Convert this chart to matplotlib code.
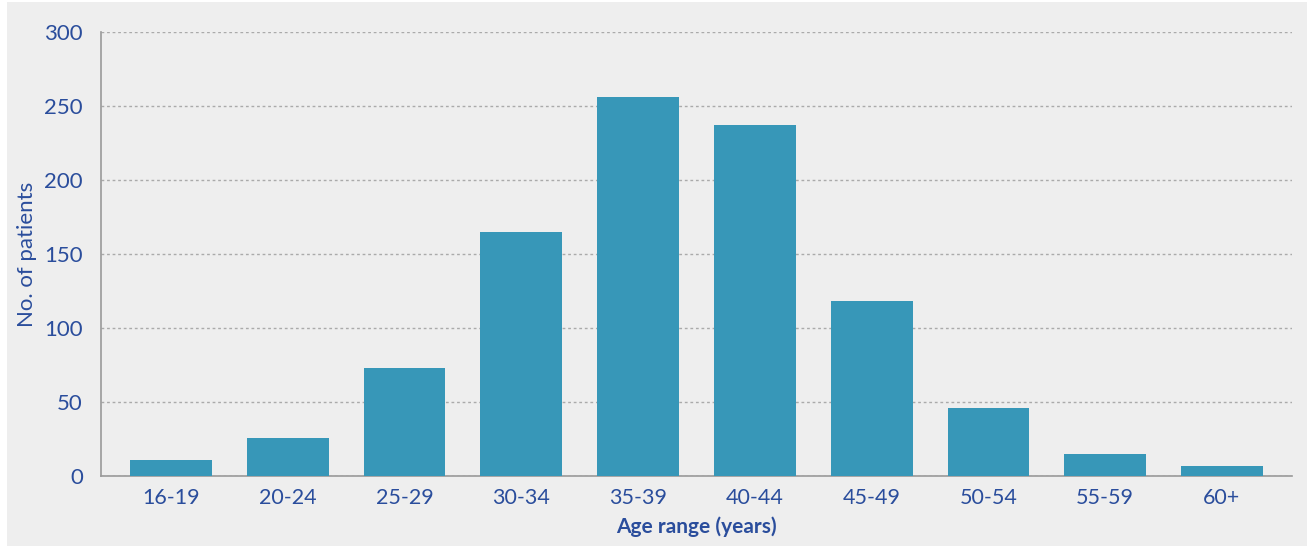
import matplotlib.pyplot as plt
from matplotlib.patches import Rectangle
import numpy as np

# age bands and patient counts
age_ranges = ['16-19', '20-24', '25-29', '30-34', '35-39', '40-44', '45-49', '50-54', '55-59', '60+']
patients = [11, 26, 73, 165, 256, 237, 118, 46, 15, 7]
y_ticks = [0, 50, 100, 150, 200, 250, 300]

text_col = '#2a4d9c'
bar_col = '#3797b8'
bg = '#eeeeee'

plt.rcParams['font.family'] = ['Lato', 'DejaVu Sans']

fig = plt.figure(figsize=(13.07, 5.46), dpi=100, facecolor='white')
# grey panel with a thin white strip on the left and top
fig.patches.append(Rectangle((7 / 1307, 0), 1, 1 - 2 / 546, transform=fig.transFigure,
                             facecolor=bg, edgecolor='none', zorder=-10))

ax = fig.add_axes([101 / 1307, 70 / 546, 1191 / 1307, 444 / 546])
ax.set_facecolor(bg)

x = np.arange(len(age_ranges))
ax.bar(x, patients, width=0.7, color=bar_col, zorder=3)

ax.set_xlim(-0.6, 9.6)
ax.set_ylim(0, 300)
ax.set_yticks(y_ticks)
ax.set_xticks(x)
ax.set_xticklabels(age_ranges)

ax.grid(axis='y', linestyle=(0, (2, 2)), color='#aaaaaa', linewidth=1, zorder=0)
for s in ['top', 'right']:
    ax.spines[s].set_visible(False)
for s in ['left', 'bottom']:
    ax.spines[s].set_color('#999999')
    ax.spines[s].set_linewidth(1.2)

ax.tick_params(axis='both', length=0, colors=text_col)
ax.tick_params(axis='y', labelsize=16, pad=13)
ax.tick_params(axis='x', labelsize=15.5, pad=9)

ax.set_ylabel('No. of patients', color=text_col, fontsize=16, labelpad=5)
ax.set_xlabel('Age range (years)', color=text_col, fontsize=15, fontweight='bold', labelpad=6)

fig.savefig('out.png', dpi=100, facecolor=fig.get_facecolor())
